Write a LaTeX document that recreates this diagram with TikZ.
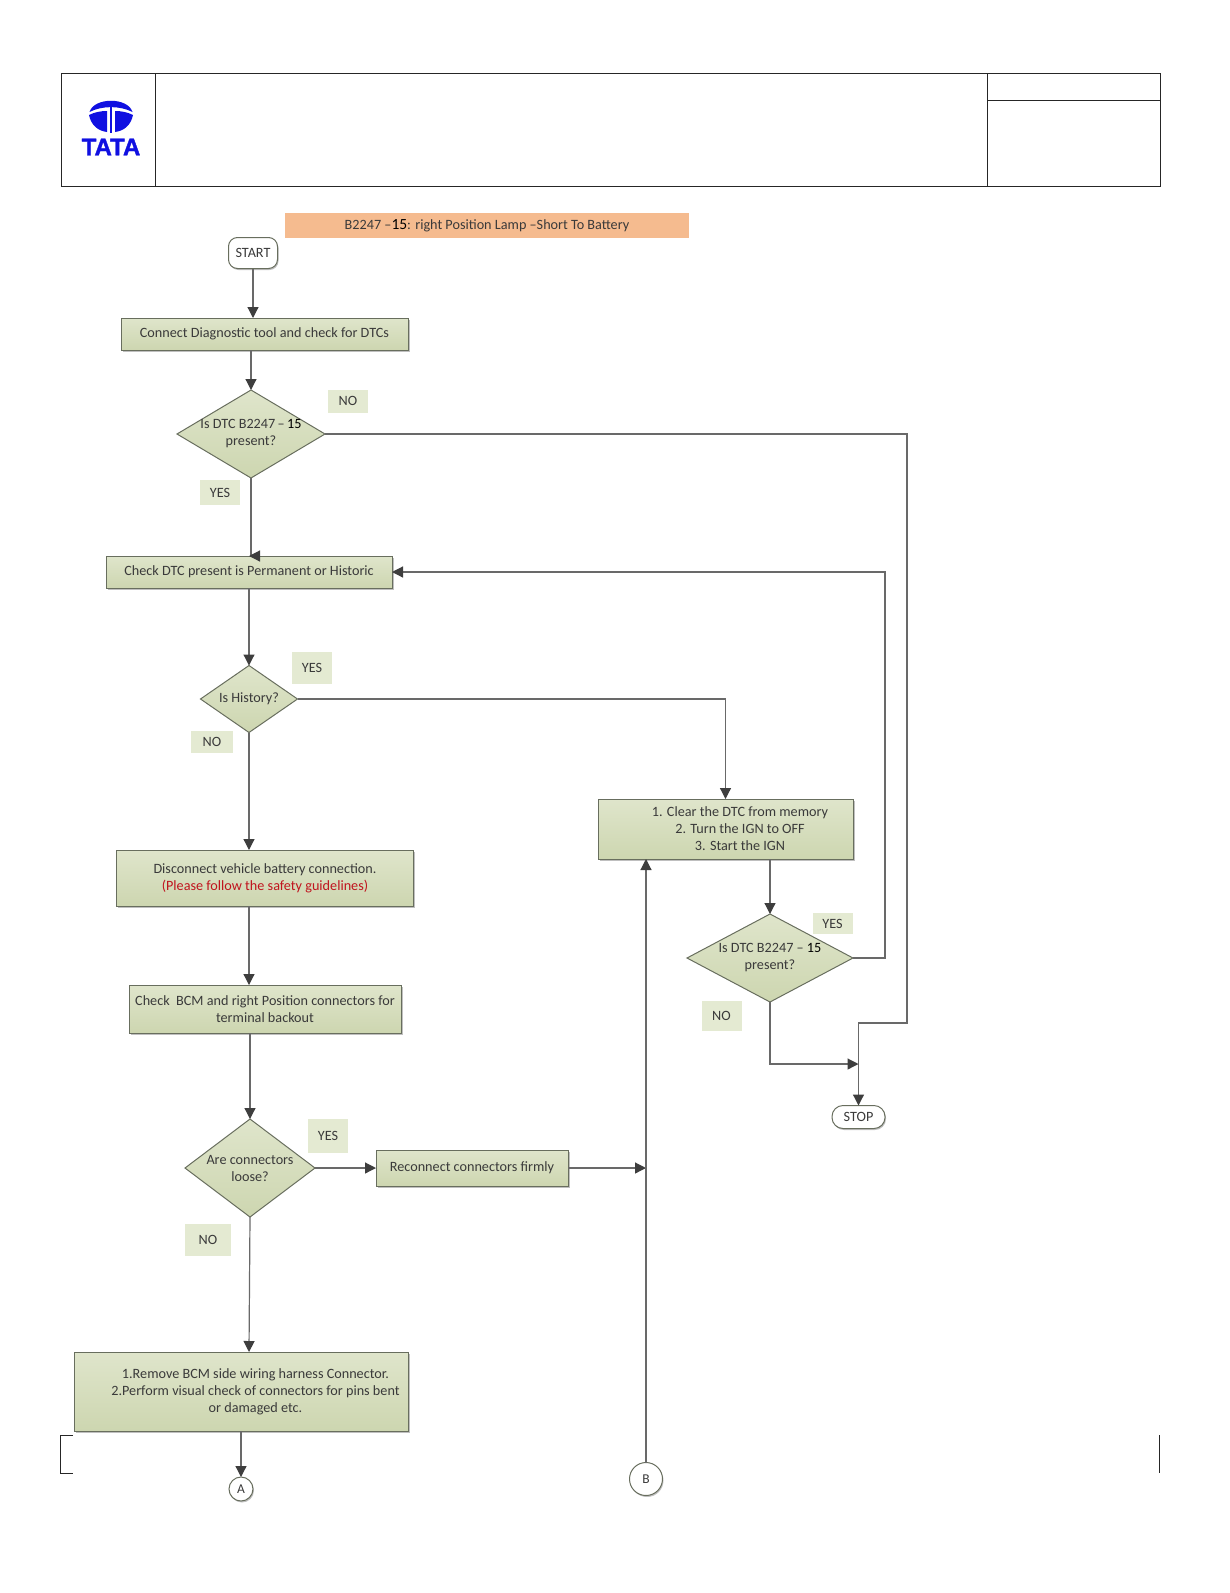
\documentclass[tikz,border=0pt]{standalone}
\usepackage{xcolor}
\usepackage{fontspec}
\setmainfont{Carlito}
\newfontfamily\logofont[BoldFeatures={FakeBold=1.5}]{Liberation Sans}
\usetikzlibrary{shapes.geometric, arrows.meta, positioning, calc, shadows}
\definecolor{boxTop}{RGB}{223, 229, 203}
\definecolor{boxBottom}{RGB}{205, 214, 176}
\definecolor{boxEdge}{RGB}{104, 110, 94}
\definecolor{tagGreen}{RGB}{228, 234, 210}
\definecolor{titleOrange}{RGB}{245, 187, 143}
\definecolor{lineGray}{RGB}{105, 105, 105}
\definecolor{tipDark}{RGB}{62, 62, 62}
\definecolor{textDark}{RGB}{58, 58, 58}
\definecolor{safetyRed}{RGB}{192, 20, 30}
\definecolor{tataBlue}{RGB}{16, 16, 225}
\newcommand{\padtext}{\hspace*{29pt}}

\begin{document}
\begin{tikzpicture}[
    x=1pt, y=-1pt,
    % Node styles
    procbox/.style={
        rectangle,
        draw=boxEdge,
        line width=1pt,
        top color=boxTop,
        bottom color=boxBottom,
        inner sep=0pt,
        outer sep=0pt,
        align=center,
        font=\fontsize{14.2}{17}\selectfont,
        text=textDark,
        general shadow={fill=black!25, shadow xshift=1.5pt, shadow yshift=-1.5pt}
    },
    decision/.style={
        diamond,
        draw=boxEdge,
        line width=1pt,
        top color=boxTop,
        bottom color=boxBottom,
        inner sep=0pt,
        outer sep=0pt
    },
    dectext/.style={
        align=center,
        inner sep=0pt,
        font=\fontsize{14.2}{17}\selectfont,
        text=textDark
    },
    terminal/.style={
        rectangle,
        rounded corners=9pt,
        draw=boxEdge,
        line width=1pt,
        fill=white,
        inner sep=0pt,
        outer sep=0pt,
        font=\fontsize{14.2}{15}\selectfont,
        text=textDark,
        general shadow={fill=black!25, shadow xshift=1pt, shadow yshift=-1.5pt}
    },
    connector/.style={
        circle,
        draw=boxEdge,
        line width=1pt,
        fill=white,
        inner sep=0pt,
        outer sep=0pt,
        font=\fontsize{13.5}{15}\selectfont,
        text=textDark,
        general shadow={fill=black!25, shadow xshift=1pt, shadow yshift=-1.5pt}
    },
    tag/.style={
        rectangle,
        fill=tagGreen,
        inner sep=0pt,
        font=\fontsize{14.2}{15}\selectfont,
        text=textDark
    },
    arrow/.style={
        -{Triangle[length=11pt, width=11pt, color=tipDark]},
        line width=1.2pt,
        color=lineGray
    },
    frameline/.style={
        draw=black!85,
        line width=1pt
    }
]
\useasboundingbox (0,0) rectangle (1230,1593);

% Header frame
\draw[frameline] (61,73) rectangle (1160,186);
\draw[frameline] (155,73) -- (155,186);
\draw[frameline] (987,73) -- (987,186);
\draw[frameline] (987,100) -- (1160,100);
\draw[frameline] (73,1435) -- (60,1435) -- (60,1473) -- (73,1473);
\draw[frameline] (1159,1435) -- (1159,1473);

% Logo
\fill[tataBlue] (89.5,112) .. controls (94,97) and (128,97) .. (132.5,112) .. controls (120,105.5) and (102,105.5) .. (89.5,112) -- cycle;
\fill[tataBlue] (89,115) .. controls (95,112) and (101,111) .. (107,111) -- (107,132) .. controls (98,131) and (91,125) .. (89,115) -- cycle;
\fill[tataBlue] (133,115) .. controls (127,112) and (121,111) .. (115,111) -- (115,132) .. controls (124,131) and (131,125) .. (133,115) -- cycle;
\fill[tataBlue] (109.7,106) rectangle (112.3,133);
\node[inner sep=0pt, text=tataBlue, font=\logofont\bfseries\fontsize{24}{24}\selectfont] (logo) at (111,147) {TATA};

% Title
\node[rectangle, fill=titleOrange, minimum width=404pt, minimum height=25pt, inner sep=0pt, text=textDark, font=\fontsize{14.2}{15}\selectfont] (title) at (487,225.5) {B2247 --\textcolor{black}{\fontsize{15.5}{15}\selectfont 15}: right Position Lamp --Short To Battery};

% Main column
\node[terminal, minimum width=49pt, minimum height=31pt] (start) at (253,253) {START};
\node[procbox, minimum width=287pt, minimum height=32pt, below=49.5pt of start, xshift=11.5pt] (cnt) {Connect Diagnostic tool and check for DTCs};
\node[decision, minimum width=148pt, minimum height=88pt, below=40pt of cnt, xshift=-13.5pt,
    label={[dectext]center:{Is DTC B2247\,--\,\textcolor{black}{15}\\present?}}] (dtc1) {};
\node[procbox, minimum width=286pt, minimum height=32pt, below=78pt of dtc1, xshift=-2pt] (chk) {Check DTC present is Permanent or Historic};
\node[decision, minimum width=97pt, minimum height=67pt, below=77.5pt of chk,
    label={[dectext]center:{Is History?}}] (hist) {};
\node[procbox, minimum width=297pt, minimum height=56pt, below=117.5pt of hist, xshift=16pt] (disc) {Disconnect vehicle battery connection.\\\textcolor{safetyRed}{(Please follow the safety guidelines)}};
\node[procbox, minimum width=272pt, minimum height=48pt, below=79pt of disc] (bcm) {Check~~BCM and right Position connectors for\\terminal backout};
\node[decision, minimum width=130pt, minimum height=98pt, below=86pt of bcm, xshift=-15pt,
    label={[dectext]center:{Are connectors\\loose?}}] (loose) {};
\node[procbox, minimum width=192pt, minimum height=36pt, right=61pt of loose] (rec) {Reconnect connectors firmly};
\node[procbox, minimum width=334pt, minimum height=79pt, below=135pt of loose, xshift=-9pt] (rem) {\padtext 1.Remove BCM side wiring harness Connector.\\\padtext 2.Perform visual check of connectors for pins bent\\\padtext or damaged etc.};
\node[connector, minimum size=24pt, below=46pt of rem] (offa) {A};

% Right column
\node[procbox, minimum width=255pt, minimum height=60pt] (clr) at (725.5,829) {\padtext 1. Clear the DTC from memory\\\padtext 2. Turn the IGN to OFF\\\padtext 3. Start the IGN};
\node[decision, minimum width=166pt, minimum height=88pt, below=55pt of clr, xshift=44.5pt,
    label={[dectext]center:{Is DTC B2247 -- \textcolor{black}{15}\\present?}}] (dtc2) {};
\node[terminal, rounded corners=11pt, minimum width=53pt, minimum height=23pt, below=103.5pt of dtc2, xshift=88.5pt] (stop) {STOP};
\node[connector, minimum size=33pt] (offb) at (646,1479) {B};

% Branch labels
\node[tag, minimum width=40pt, minimum height=23pt] (no1) at (348,401) {NO};
\node[tag, minimum width=40pt, minimum height=25pt] (yes1) at (220,492.5) {YES};
\node[tag, minimum width=40pt, minimum height=32pt] (yes2) at (312,668) {YES};
\node[tag, minimum width=42pt, minimum height=22pt] (no2) at (212,742) {NO};
\node[tag, minimum width=40pt, minimum height=21pt] (yes3) at (832.5,923.5) {YES};
\node[tag, minimum width=40pt, minimum height=30pt] (no3) at (721.5,1016) {NO};
\node[tag, minimum width=40pt, minimum height=34pt] (yes4) at (328,1136) {YES};
\node[tag, minimum width=46pt, minimum height=32pt] (no4) at (208,1240) {NO};

% Turning points
\coordinate (noturn) at (907,1023);
\coordinate (yesturn) at (885,572);
\coordinate (merge) at ($(stop.north |- dtc2.south)+(0,62)$);

% Arrows
\draw[arrow] (start) -- (start |- cnt.north);
\draw[arrow] (dtc1 |- cnt.south) -- (dtc1.north);
\draw[arrow] (dtc1.south) |- (chk.north);
\draw[arrow] (chk.south -| hist.north) -- (hist.north);
\draw[arrow] (hist.south) -- (hist.south |- disc.north);
\draw[arrow] (hist.south |- disc.south) -- (hist.south |- bcm.north);
\draw[arrow] (loose.north |- bcm.south) -- (loose.north);
\draw[arrow] (loose.east) -- (rec.west);
\draw[arrow] (loose.south) -- (hist.south |- rem.north);
\draw[arrow] (offa.north |- rem.south) -- (offa.north);
\draw[arrow] (hist.east) -| (clr.north);
\draw[arrow] (dtc2.north |- clr.south) -- (dtc2.north);
\draw[arrow] (dtc2.east) -| (yesturn) -- (chk.east |- yesturn);
\draw[arrow] (dtc1.east) -| (noturn) -| (stop.north);
\draw[arrow] (dtc2.south) |- (merge);
\draw[arrow] (rec.east) -- (rec.east -| offb.north);
\draw[arrow] (offb.north) -- (offb.north |- clr.south);

\end{tikzpicture}
\end{document}
